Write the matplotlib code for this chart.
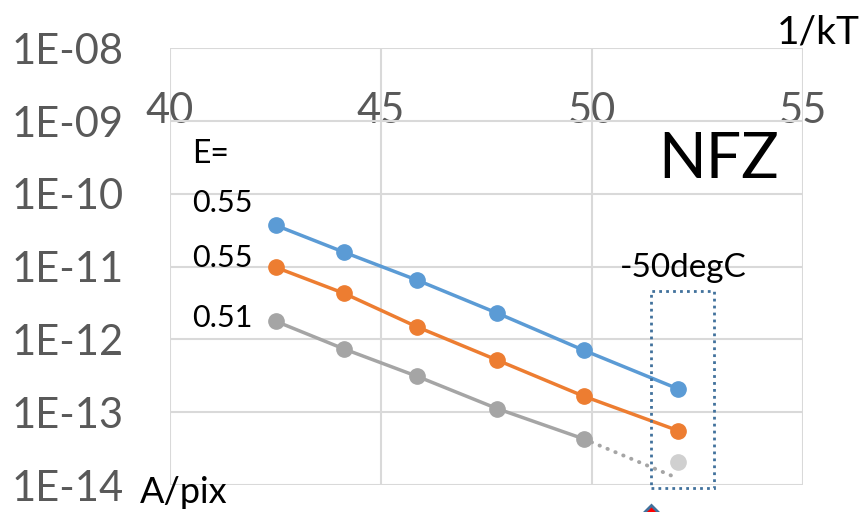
import matplotlib
matplotlib.use("Agg")
import matplotlib.pyplot as plt
from matplotlib.patches import Rectangle
from matplotlib.ticker import FixedLocator, NullLocator

plt.rcParams['font.family'] = ['Lato', 'DejaVu Sans']

# 1/kT for 0, -10, ... -50 degC
inv_kt = [42.51, 44.13, 45.87, 47.76, 49.81, 52.04]

blue_vals = [3.7e-11, 1.58e-11, 6.5e-12, 2.3e-12, 7.1e-13, 2.1e-13]
orange_vals = [9.8e-12, 4.3e-12, 1.48e-12, 5.2e-13, 1.66e-13, 5.6e-14]
gray_vals = [1.78e-12, 7.4e-13, 3.1e-13, 1.12e-13, 4.3e-14]
gray_point_m50 = 2.1e-14      # measured point at -50degC
gray_extrap = [4.3e-14, 1.3e-14]   # dotted extension to -50degC
gray_extrap_x = [49.81, 51.95]

e_labels = ["0.55", "0.55", "0.51"]
x_ticks = [40, 45, 50, 55]
y_ticks = [1e-14, 1e-13, 1e-12, 1e-11, 1e-10, 1e-9, 1e-8]
y_ticklabels = ["1E-14", "1E-13", "1E-12", "1E-11", "1E-10", "1E-09", "1E-08"]

BLUE = "#5B9BD5"
ORANGE = "#ED7D31"
GRAY = "#A5A5A5"
LIGHT_GRAY = "#D0D0D0"
TICK_COL = "#595959"

fig = plt.figure(figsize=(8.66, 5.12), dpi=100)
ax = fig.add_axes([0.196, 0.0527, 0.731, 0.853])

ax.set_yscale('log')
ax.set_xlim(40, 55)
ax.set_ylim(1e-14, 1e-8)

ax.plot(inv_kt, blue_vals, '-o', color=BLUE, lw=2.5, ms=11, zorder=5)
ax.plot(inv_kt, orange_vals, '-o', color=ORANGE, lw=2.5, ms=11, zorder=5)
ax.plot(inv_kt[:5], gray_vals, '-o', color=GRAY, lw=2.5, ms=11, zorder=5)
ax.plot(gray_extrap_x, gray_extrap, color=GRAY, lw=2.8,
        linestyle=(0, (0.1, 2.1)), dash_capstyle='round', zorder=4)
ax.plot([inv_kt[5]], [gray_point_m50], 'o', color=LIGHT_GRAY, ms=11, zorder=5)

# grid instead of spines
for s in ax.spines.values():
    s.set_visible(False)
ax.yaxis.set_major_locator(FixedLocator(y_ticks))
ax.yaxis.set_minor_locator(NullLocator())
ax.set_yticklabels(y_ticklabels)
ax.set_xticks(x_ticks)
ax.set_xticklabels([str(v) for v in x_ticks])
ax.grid(True, color="#D9D9D9", lw=1.5)
ax.set_axisbelow(True)

ax.xaxis.set_ticks_position('top')
ax.tick_params(axis='x', length=0, pad=-59, labelsize=30, labelcolor=TICK_COL)
ax.tick_params(axis='y', length=0, pad=33, labelsize=30, labelcolor=TICK_COL)

# -50degC box
box = Rectangle((51.4, 9.1e-15), 1.5, 4.6e-12 - 9.1e-15, fill=False,
                edgecolor="#41719C", lw=2, linestyle=(0, (1, 1.5)),
                clip_on=False, zorder=6)
ax.add_patch(box)
ax.plot([51.4], [3.1e-15], marker='D', ms=17, mfc="#FF0000", mec="#41719C",
        mew=2, clip_on=False, zorder=7)

ax.text(0.036, 0.737, "E=", transform=ax.transAxes, fontsize=23, va='baseline')
for lab, yy in zip(e_labels, [0.625, 0.499, 0.362]):
    ax.text(0.035, yy, lab, transform=ax.transAxes, fontsize=22, va='baseline')
ax.text(0.711, 0.476, "-50degC", transform=ax.transAxes, fontsize=24, va='baseline')
ax.text(0.771, 0.703, "NFZ", transform=ax.transAxes, fontsize=45, va='baseline')
ax.text(0.959, 1.011, "1/kT", transform=ax.transAxes, fontsize=28, va='baseline')
ax.text(-0.047, -0.042, "A/pix", transform=ax.transAxes, fontsize=26, va='baseline')

fig.savefig("out.png", dpi=100)
